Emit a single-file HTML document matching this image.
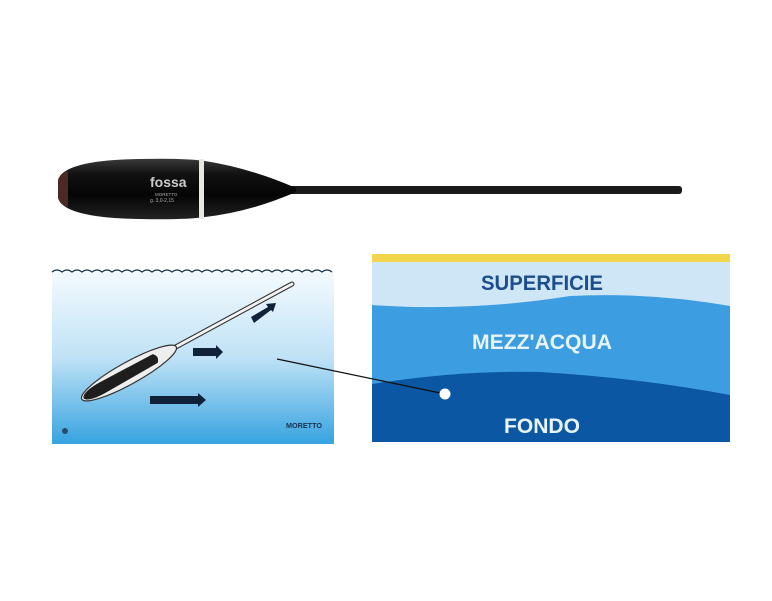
<!DOCTYPE html>
<html><head><style>
html,body{margin:0;padding:0;background:#fff;width:772px;height:601px;overflow:hidden}
svg{display:block}
text{font-family:"Liberation Sans",sans-serif}
</style></head><body>
<svg width="772" height="601" viewBox="0 0 772 601" xmlns="http://www.w3.org/2000/svg">
<defs>
<linearGradient id="body" x1="0" y1="0" x2="0" y2="1">
<stop offset="0" stop-color="#3a3a3a"/><stop offset="0.25" stop-color="#111"/><stop offset="0.6" stop-color="#050505"/><stop offset="1" stop-color="#222"/>
</linearGradient>
<linearGradient id="water" x1="0" y1="0" x2="0" y2="1">
<stop offset="0" stop-color="#f4fafe"/><stop offset="0.5" stop-color="#bfe2f6"/><stop offset="1" stop-color="#36a3e0"/>
</linearGradient>
</defs>
<rect x="288" y="186" width="394" height="8" rx="3" fill="#1a1a1a"/>
<path d="M60,176 Q72,160 140,159 Q185,158 205,161 Q250,168 296,188 L296,192 Q250,212 205,217 Q185,220 140,219 Q72,218 60,202 Z" fill="url(#body)"/>
<path d="M58,180 Q60,173 68,171 L68,207 Q60,205 58,198 Z" fill="#4a2a22"/>
<rect x="199" y="159" width="5" height="60" fill="#e8e8e0"/>
<text x="150" y="187" font-size="14" font-weight="bold" fill="#ccc">fossa</text>
<text x="155" y="196" font-size="4.5" fill="#aaa">MORETTO</text>
<text x="150" y="202" font-size="5" fill="#aaa">g. 3,0-2,15</text>
<rect x="52" y="272" width="282" height="172" fill="url(#water)"/>
<path d="M52,272 q5,-4 10,0 q5,-4 10,0 q5,-4 10,0 q5,-4 10,0 q5,-4 10,0 q5,-4 10,0 q5,-4 10,0 q5,-4 10,0 q5,-4 10,0 q5,-4 10,0 q5,-4 10,0 q5,-4 10,0 q5,-4 10,0 q5,-4 10,0 q5,-4 10,0 q5,-4 10,0 q5,-4 10,0 q5,-4 10,0 q5,-4 10,0 q5,-4 10,0 q5,-4 10,0 q5,-4 10,0 q5,-4 10,0 q5,-4 10,0 q5,-4 10,0 q5,-4 10,0 q5,-4 10,0 q5,-4 10,0" fill="none" stroke="#1a3a55" stroke-width="1.3"/>
<line x1="172" y1="349" x2="292" y2="284" stroke="#333" stroke-width="5" stroke-linecap="round"/>
<line x1="172" y1="349" x2="292" y2="284" stroke="#f4f4f4" stroke-width="2.8" stroke-linecap="round"/>
<g transform="translate(129,373) rotate(-29)">
<ellipse cx="0" cy="0" rx="54" ry="11" fill="#eee" stroke="#333" stroke-width="1.2"/>
<path d="M-52,0 Q-50,-6 -30,-6 L30,-5 Q35,0 30,5 L-30,6 Q-50,6 -52,0 Z" fill="#1e1e1e"/>
</g>
<g fill="#12213a">
<path d="M150,396 L198,396 L198,393 L206,400 L198,407 L198,404 L150,404 Z"/>
<path d="M193,348 L216,348 L216,345 L223,352 L216,359 L216,356 L193,356 Z"/>
<path d="M251,317 L268,307 L266,304 L276,303 L273,312 L271,310 L254,323 Z"/>
</g>
<circle cx="65" cy="431" r="3" fill="#2a4a6a"/>
<text x="286" y="428" font-size="7.5" font-weight="bold" fill="#1a3050" textLength="36" lengthAdjust="spacingAndGlyphs">MORETTO</text>
<rect x="372" y="254" width="358" height="188" fill="#0b57a4"/>
<path d="M372,262 L730,262 L730,395 Q640,378 540,372 Q460,370 372,384 Z" fill="#3c9ee0"/>
<path d="M372,262 L730,262 L730,306 Q650,292 570,296 Q470,312 372,305 Z" fill="#cfe6f7"/>
<rect x="372" y="254" width="358" height="8" fill="#f2d54a"/>
<text x="542" y="290" font-size="21" font-weight="bold" fill="#1d4e8c" text-anchor="middle" textLength="122" lengthAdjust="spacingAndGlyphs">SUPERFICIE</text>
<text x="542" y="349" font-size="21" font-weight="bold" fill="#e8f3fb" text-anchor="middle" textLength="140" lengthAdjust="spacingAndGlyphs">MEZZ'ACQUA</text>
<text x="542" y="433" font-size="21" font-weight="bold" fill="#e8f3fb" text-anchor="middle" textLength="76" lengthAdjust="spacingAndGlyphs">FONDO</text>
<line x1="277" y1="359" x2="445" y2="394" stroke="#111" stroke-width="1.3"/>
<circle cx="445" cy="394" r="5.5" fill="#fff"/>
</svg>
</body></html>
